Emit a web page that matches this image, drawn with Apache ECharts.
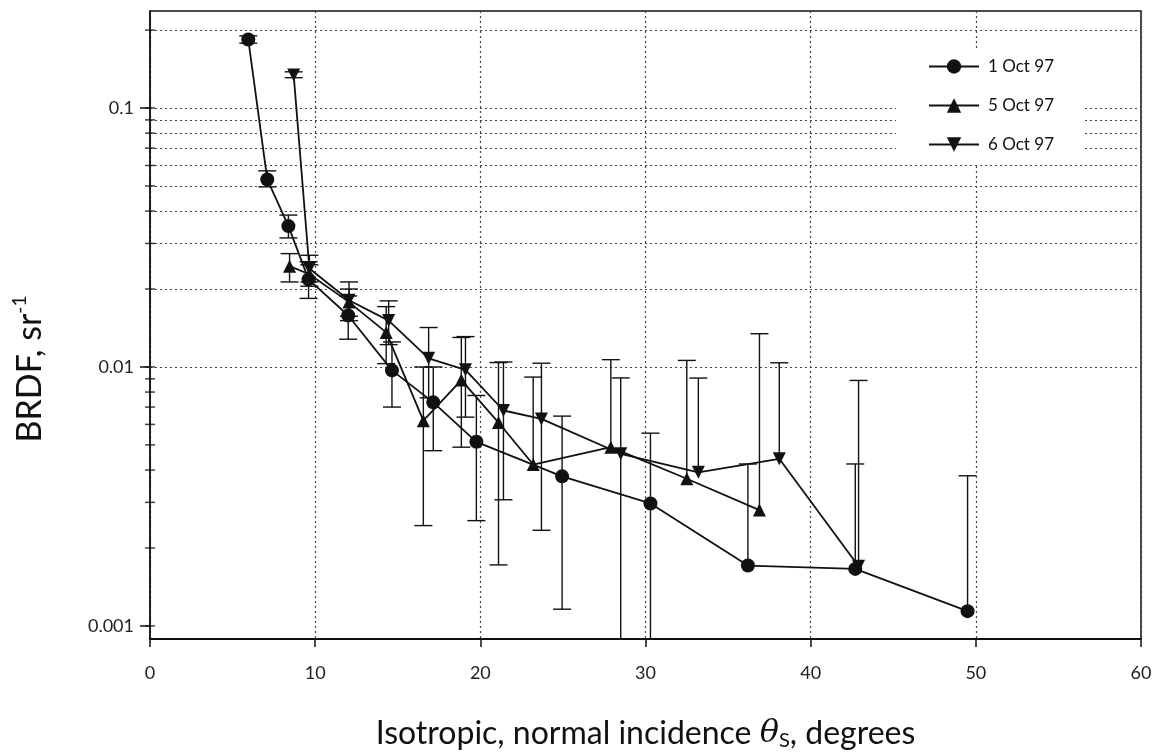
<!DOCTYPE html>
<html><head><meta charset="utf-8">
<script src="https://cdn.jsdelivr.net/npm/echarts@6/dist/echarts.min.js"></script>
<style>html,body{margin:0;padding:0;background:#fff}#c{width:1161px;height:753px}</style>
</head><body><div id="c"></div>
<script>
// ---- data ----
const seriesNames = ['1 Oct 97', '5 Oct 97', '6 Oct 97'];

const oct1X  = [5.95, 7.1, 8.38, 9.6, 12.0, 14.65, 17.15, 19.76, 24.95, 30.3, 36.2, 42.7, 49.5];
const oct1Y  = [0.184, 0.053, 0.035, 0.0218, 0.0158, 0.0097, 0.0073, 0.00514, 0.00378, 0.00297, 0.00171, 0.00166, 0.00114];
const oct1Hi = [0.19, 0.0572, 0.0386, 0.0255, 0.0188, 0.01249, 0.0100, 0.00776, 0.00646, 0.00555, 0.00422, 0.00422, 0.0038];
const oct1Lo = [0.178, 0.0496, 0.0315, 0.0184, 0.0128, 0.0070, 0.00475, 0.00255, 0.00116, 0.0002, null, null, null];

const oct5X  = [8.45, 9.65, 12.05, 14.3, 16.55, 18.85, 21.1, 23.2, 27.9, 32.5, 36.9];
const oct5Y  = [0.0245, 0.0228, 0.0178, 0.0136, 0.0062, 0.0089, 0.0061, 0.0042, 0.0049, 0.0037, 0.0028];
const oct5Hi = [0.0274, 0.0248, 0.0200, 0.0171, 0.0100, 0.0130, 0.0104, 0.00914, 0.01067, 0.0106, 0.01344];
const oct5Lo = [0.0213, 0.0205, 0.0157, 0.0103, 0.00244, 0.0049, 0.00172, null, null, null, null];

const oct6X  = [8.7, 9.65, 12.05, 14.45, 16.87, 19.1, 21.4, 23.7, 28.5, 33.2, 38.1, 42.9];
const oct6Y  = [0.134, 0.024, 0.0181, 0.0151, 0.0108, 0.00975, 0.00679, 0.0063, 0.00462, 0.00392, 0.00442, 0.0017];
const oct6Hi = [0.138, 0.0270, 0.0213, 0.0180, 0.0142, 0.0131, 0.01045, 0.01034, 0.00907, 0.00906, 0.01038, 0.00887];
const oct6Lo = [0.131, 0.0213, 0.0151, 0.0122, 0.0076, 0.0064, 0.00307, 0.00234, 0.0002, null, null, null];

const xTickValues = [0, 10, 20, 30, 40, 50, 60];
const yMajorValues = [0.001, 0.01, 0.1];
const yMajorLabels = ['0.001', '0.01', '0.1'];
const yGridValues = [0.001, 0.002, 0.003, 0.004, 0.005, 0.006, 0.007, 0.008, 0.009,
                     0.01, 0.02, 0.03, 0.04, 0.05, 0.06, 0.07, 0.08, 0.09, 0.1, 0.2];
const yMin = 0.00089, yMax = 0.237;

// ---- chart ----
const INK = '#111';
const FONT = 'Lato, "Open Sans", sans-serif';

function pairs(xs, ys) { return xs.map((x, i) => [x, ys[i]]); }
function errData(xs, ys, his, los) {
  return xs.map((x, i) => [x, ys[i], his[i], los[i] == null ? ys[i] : los[i], los[i] == null ? 0 : 1]);
}
function errRender(params, api) {
  const x = api.value(0), hi = api.value(2), lo = api.value(3), hasLo = api.value(4) === 1;
  const pHi = api.coord([x, hi]);
  const pLo = api.coord([x, lo]);
  const w = 9;
  const st = { stroke: INK, lineWidth: 1.4 };
  const ch = [
    { type: 'line', shape: { x1: pHi[0], y1: pHi[1], x2: pLo[0], y2: pLo[1] }, style: st },
    { type: 'line', shape: { x1: pHi[0] - w, y1: pHi[1], x2: pHi[0] + w, y2: pHi[1] }, style: st }
  ];
  if (hasLo) ch.push({ type: 'line', shape: { x1: pLo[0] - w, y1: pLo[1], x2: pLo[0] + w, y2: pLo[1] }, style: st });
  return { type: 'group', children: ch };
}

const lineCommon = {
  type: 'line', z: 5, animation: false, color: INK,
  lineStyle: { color: INK, width: 1.8 },
  itemStyle: { color: INK }
};
const errCommon = { type: 'custom', renderItem: errRender, clip: true, z: 4, animation: false, silent: true,
  encode: { x: 0, y: 1 } };

const chart = echarts.init(document.getElementById('c'));
chart.setOption({
  backgroundColor: '#fff',
  animation: false,
  textStyle: { fontFamily: FONT },
  grid: { left: 150, right: 20, top: 11, bottom: 114, show: true, borderColor: INK, borderWidth: 1.5,
          containLabel: false, outerBoundsMode: 'none' },
  legend: {
    data: seriesNames,
    orient: 'vertical', left: 896, top: 48,
    z: 20,
    padding: [10, 30, 10, 32],
    backgroundColor: '#fff',
    itemWidth: 50, itemHeight: 18, itemGap: 22,
    textStyle: { fontSize: 17, color: INK, fontFamily: FONT, padding: [0, 0, 0, 4] }
  },
  xAxis: {
    type: 'value', min: 0, max: 60, interval: 10,
    axisLine: { show: true, lineStyle: { color: INK, width: 2 } },
    axisTick: { show: true, length: 8, lineStyle: { color: INK, width: 1.5 } },
    axisLabel: { fontSize: 18, color: '#222', margin: 25, fontFamily: FONT },
    splitLine: { show: true, lineStyle: { type: [2, 3], color: '#444', width: 1.2 } },
    name: '{a|Isotropic, normal incidence }{t|θ}{s|S}{a|, degrees}',
    nameLocation: 'middle', nameGap: 78,
    nameTextStyle: {
      rich: {
        a: { fontSize: 32, color: INK, fontFamily: FONT, lineHeight: 34, verticalAlign: 'middle' },
        t: { fontSize: 32, color: INK, fontFamily: 'DejaVu Serif, serif', fontStyle: 'italic', lineHeight: 34, verticalAlign: 'middle' },
        s: { fontSize: 20, color: INK, fontFamily: FONT, lineHeight: 34, verticalAlign: 'bottom' }
      }
    }
  },
  yAxis: {
    type: 'log', logBase: 10, min: yMin, max: yMax,
    axisLine: { show: true, lineStyle: { color: INK, width: 1.5 } },
    axisTick: { show: true, length: 10, customValues: yMajorValues, lineStyle: { color: INK, width: 1.5 } },
    axisLabel: {
      customValues: yMajorValues, fontSize: 18, color: '#222', margin: 16, fontFamily: FONT,
      formatter: function (v) {
        for (let i = 0; i < yMajorValues.length; i++) {
          if (Math.abs(Math.log10(v) - Math.log10(yMajorValues[i])) < 1e-6) return yMajorLabels[i];
        }
        return '';
      }
    },
    splitLine: { show: false },
    name: '{a|BRDF, sr}{b|-1}',
    nameLocation: 'middle', nameGap: 100, nameRotate: 90,
    nameTextStyle: {
      padding: [0, 88, 0, 0],
      rich: {
        a: { fontSize: 34, color: INK, fontFamily: FONT, lineHeight: 40, verticalAlign: 'middle' },
        b: { fontSize: 19, color: INK, fontFamily: FONT, lineHeight: 40, verticalAlign: 'top' }
      }
    }
  },
  series: [
    {
      name: 'grid', type: 'scatter', silent: true, animation: false, clip: false, z: 3,
      symbol: 'rect', symbolSize: [10, 1.5], itemStyle: { color: INK },
      data: yGridValues.map(v => [0, v]),
      markLine: {
        silent: true, animation: false, symbol: ['none', 'none'], z: 1,
        label: { show: false },
        lineStyle: { type: [2, 3], color: '#444', width: 1.2 },
        data: yGridValues.map(v => ({ yAxis: v }))
      }
    },
    Object.assign({}, errCommon, { name: 'e1', data: errData(oct1X, oct1Y, oct1Hi, oct1Lo) }),
    Object.assign({}, errCommon, { name: 'e5', data: errData(oct5X, oct5Y, oct5Hi, oct5Lo) }),
    Object.assign({}, errCommon, { name: 'e6', data: errData(oct6X, oct6Y, oct6Hi, oct6Lo) }),
    Object.assign({}, lineCommon, { name: seriesNames[0], symbol: 'circle', symbolSize: 14, data: pairs(oct1X, oct1Y) }),
    Object.assign({}, lineCommon, { name: seriesNames[1], symbol: 'triangle', symbolSize: 13, data: pairs(oct5X, oct5Y) }),
    Object.assign({}, lineCommon, { name: seriesNames[2], symbol: 'triangle', symbolRotate: 180, symbolSize: 13, data: pairs(oct6X, oct6Y) })
  ]
});
</script>
</body></html>
